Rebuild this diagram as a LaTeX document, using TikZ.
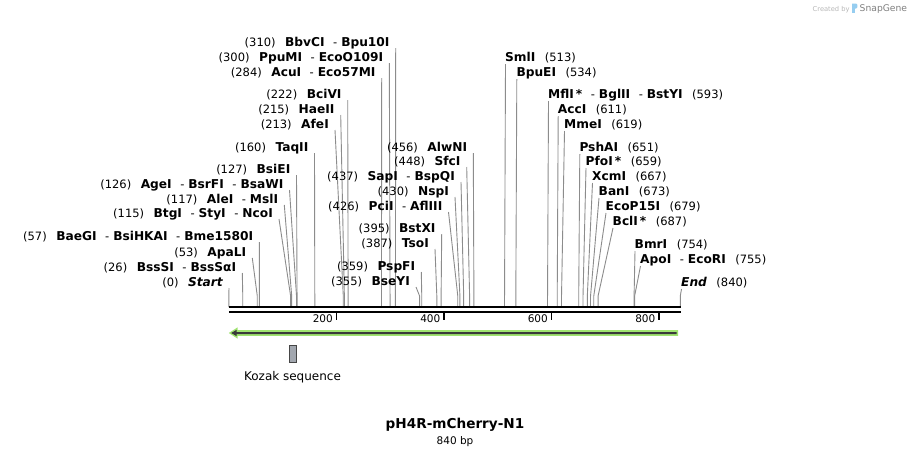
\documentclass[tikz,border=0pt]{standalone}
\usepackage{fontspec}
\setmainfont{DejaVu Sans}
\usepackage{tikz}
\usetikzlibrary{positioning,calc}

\definecolor{cutgray}{RGB}{140,140,140}
\definecolor{featgreen}{RGB}{160,228,112}
\definecolor{featdark}{RGB}{58,58,58}
\definecolor{kozakfill}{RGB}{162,167,175}
\definecolor{kozakdraw}{RGB}{70,70,70}
\definecolor{snapblue}{RGB}{150,205,240}

\newcommand{\labelfont}{\fontsize{11.5}{13}\selectfont}
\newcommand{\enzb}[1]{{\fontsize{12.2}{13}\selectfont\bfseries #1}}
\newcommand{\numgap}{\hspace{9.5pt}}
\newcommand{\enzsep}{\hspace{8.5pt}-\hspace{4pt}}
% cut site, label on the left of its line
\newcommand{\cutL}[5]{%
  \node[cut label,anchor=base east] (#1) at (#2-6,#3+4) {#5};
  \coordinate (#1-bend) at ({228.8+0.5375*#4},296);
  \draw[cut line] ([xshift=6pt,yshift=-2pt]#1.base east) -- (#1-bend) -- (#1-bend |- bar-l);
}
% cut site, label on the right of its line
\newcommand{\cutR}[5]{%
  \node[cut label,anchor=base west] (#1) at (#2,#3+4) {#5};
  \coordinate (#1-bend) at ({228.8+0.5375*#4},296);
  \draw[cut line] ([xshift=0.5pt,yshift=-3pt]#1.base west) -- (#1-bend) -- (#1-bend |- bar-l);
}

\begin{document}
\begin{tikzpicture}[x=1pt,y=-1pt,
    cut label/.style={font=\labelfont,inner sep=0pt},
    cut line/.style={cutgray,line width=0.9pt},
    tick/.style={black,line width=1.6pt},
    tick label/.style={font=\fontsize{10.5}{12}\selectfont,inner sep=0pt,anchor=east},
    kozak box/.style={draw=kozakdraw,fill=kozakfill,line width=0.8pt,minimum width=7pt,minimum height=17pt,inner sep=0pt}]
    \fill [white] (0,0) rectangle (910,456);
    \useasboundingbox (0,0) rectangle (910,456);

    \coordinate (bar-l) at (228.8,307);
    \coordinate (bar-r) at (681,307);

    % sites left of the bar middle
    \cutL{bbvci}{395.7}{42}{310}{(310)\numgap\enzb{BbvCI}\enzsep\enzb{Bpu10I}}
    \cutL{ppumi}{389.3}{57}{300}{(300)\numgap\enzb{PpuMI}\enzsep\enzb{EcoO109I}}
    \cutL{acui}{381.7}{72}{284}{(284)\numgap\enzb{AcuI}\enzsep\enzb{Eco57MI}}
    \cutL{bcivi}{347.7}{94}{222}{(222)\numgap\enzb{BciVI}}
    \cutL{haeii}{340.7}{109}{215}{(215)\numgap\enzb{HaeII}}
    \cutL{afei}{335}{124}{213}{(213)\numgap\enzb{AfeI}}
    \cutL{taqii}{314.5}{147}{160}{(160)\numgap\enzb{TaqII}}
    \cutL{bsiei}{296.5}{169}{127}{(127)\numgap\enzb{BsiEI}}
    \cutL{agei}{289.5}{184}{126}{(126)\numgap\enzb{AgeI}\enzsep\enzb{BsrFI}\enzsep\enzb{BsaWI}}
    \cutL{alei}{284.3}{199}{117}{(117)\numgap\enzb{AleI}\enzsep\enzb{MslI}}
    \cutL{btgi}{279}{213}{115}{(115)\numgap\enzb{BtgI}\enzsep\enzb{StyI}\enzsep\enzb{NcoI}}
    \cutL{baegi}{259.3}{236}{57}{(57)\numgap\enzb{BaeGI}\enzsep\enzb{BsiHKAI}\enzsep\enzb{Bme1580I}}
    \cutL{apali}{252.3}{252}{53}{(53)\numgap\enzb{ApaLI}}
    \cutL{bsssi}{242.3}{267}{26}{(26)\numgap\enzb{BssSI}\enzsep\enzb{BssSαI}}
    \cutL{startmark}{229}{282}{0}{(0)\numgap\enzb{\itshape Start}}

    \cutL{alwni}{473.3}{147}{456}{(456)\numgap\enzb{AlwNI}}
    \cutL{sfci}{466.7}{161}{448}{(448)\numgap\enzb{SfcI}}
    \cutL{sapi}{461}{176}{437}{(437)\numgap\enzb{SapI}\enzsep\enzb{BspQI}}
    \cutL{nspi}{455}{191}{430}{(430)\numgap\enzb{NspI}}
    \cutL{pcii}{448.5}{206}{426}{(426)\numgap\enzb{PciI}\enzsep\enzb{AflIII}}
    \cutL{bstxi}{441.7}{228}{395}{(395)\numgap\enzb{BstXI}}
    \cutL{tsoi}{435}{243}{387}{(387)\numgap\enzb{TsoI}}
    \cutL{pspfi}{421.3}{266}{359}{(359)\numgap\enzb{PspFI}}
    \cutL{bseyi}{416}{281}{355}{(355)\numgap\enzb{BseYI}}

    % sites right of the bar middle
    \cutR{smli}{505}{57}{513}{\enzb{SmlI}\numgap(513)}
    \cutR{bpuei}{516.3}{72}{534}{\enzb{BpuEI}\numgap(534)}
    \cutR{mfli}{548}{94}{593}{\enzb{MflI\,*}\enzsep\enzb{BglII}\enzsep\enzb{BstYI}\numgap(593)}
    \cutR{acci}{557.7}{109}{611}{\enzb{AccI}\numgap(611)}
    \cutR{mmei}{564}{124}{619}{\enzb{MmeI}\numgap(619)}
    \cutR{pshai}{579.3}{147}{651}{\enzb{PshAI}\numgap(651)}
    \cutR{pfoi}{585.5}{161}{659}{\enzb{PfoI\,*}\numgap(659)}
    \cutR{xcmi}{592}{176}{667}{\enzb{XcmI}\numgap(667)}
    \cutR{bani}{598.5}{191}{673}{\enzb{BanI}\numgap(673)}
    \cutR{ecop15i}{605.5}{206}{679}{\enzb{EcoP15I}\numgap(679)}
    \cutR{bcli}{612.5}{221}{687}{\enzb{BclI\,*}\numgap(687)}
    \cutR{bmri}{634.5}{244}{754}{\enzb{BmrI}\numgap(754)}
    \cutR{apoi}{640}{259}{755}{\enzb{ApoI}\enzsep\enzb{EcoRI}\numgap(755)}
    \cutR{endmark}{681}{282}{840}{\enzb{\itshape End}\numgap(840)}

    % sequence bar
    \draw [black,line width=2.6pt] (bar-l) -- (bar-r);
    \draw [black,line width=2pt] ([yshift=-4.7pt]bar-l) -- ([yshift=-4.7pt]bar-r);

    \draw [tick] (336.3,312.5) -- (336.3,319.5);
    \draw [tick] (443.8,312.5) -- (443.8,319.5);
    \draw [tick] (551.3,312.5) -- (551.3,319.5);
    \draw [tick] (658.8,312.5) -- (658.8,319.5);
    \node [tick label] (lab200) at (333,318.5) {200};
    \node [tick label] (lab400) at (440.5,318.5) {400};
    \node [tick label] (lab600) at (548,318.5) {600};
    \node [tick label] (lab800) at (655.5,318.5) {800};

    % mCherry feature arrow
    \fill [featgreen] (678,330.2) -- (237.5,330.2) -- (237.5,327.4) -- (228.8,333) -- (237.5,338.6) -- (237.5,335.8) -- (678,335.8) -- cycle;
    \fill [featdark] (676.5,332) -- (236.5,332) -- (236.5,329.9) -- (231.2,333) -- (236.5,336.1) -- (236.5,334) -- (676.5,334) -- cycle;

    \node [kozak box] (kozak) at (292.5,353.5) {};
    \node [below=8.5pt of kozak,inner sep=0pt,font=\fontsize{12}{13}\selectfont] (kozak-label) {Kozak sequence};

    \node [inner sep=0pt,font=\fontsize{13.6}{15}\selectfont\bfseries] (plasmid) at (455,425) {pH4R-mCherry-N1};
    \node [below=4pt of plasmid,inner sep=0pt,font=\fontsize{10.5}{12}\selectfont] (length) {840 bp};

    % watermark
    \node [anchor=base west,inner sep=0pt,text=black!28,font=\fontsize{6.7}{8}\selectfont] (created) at (812.5,11) {Created by};
    \fill [snapblue] (852,3.5) rectangle (854.5,12.5);
    \fill [snapblue] (852,3.5) -- (856,3.5) to [out=0,in=0] (856,8.5) -- (852,8.5) -- cycle;
    \node [anchor=base west,inner sep=0pt,text=black!50,font=\fontsize{9.2}{10}\selectfont] (snapgene) at (859.5,11.8) {SnapGene};
\end{tikzpicture}
\end{document}
